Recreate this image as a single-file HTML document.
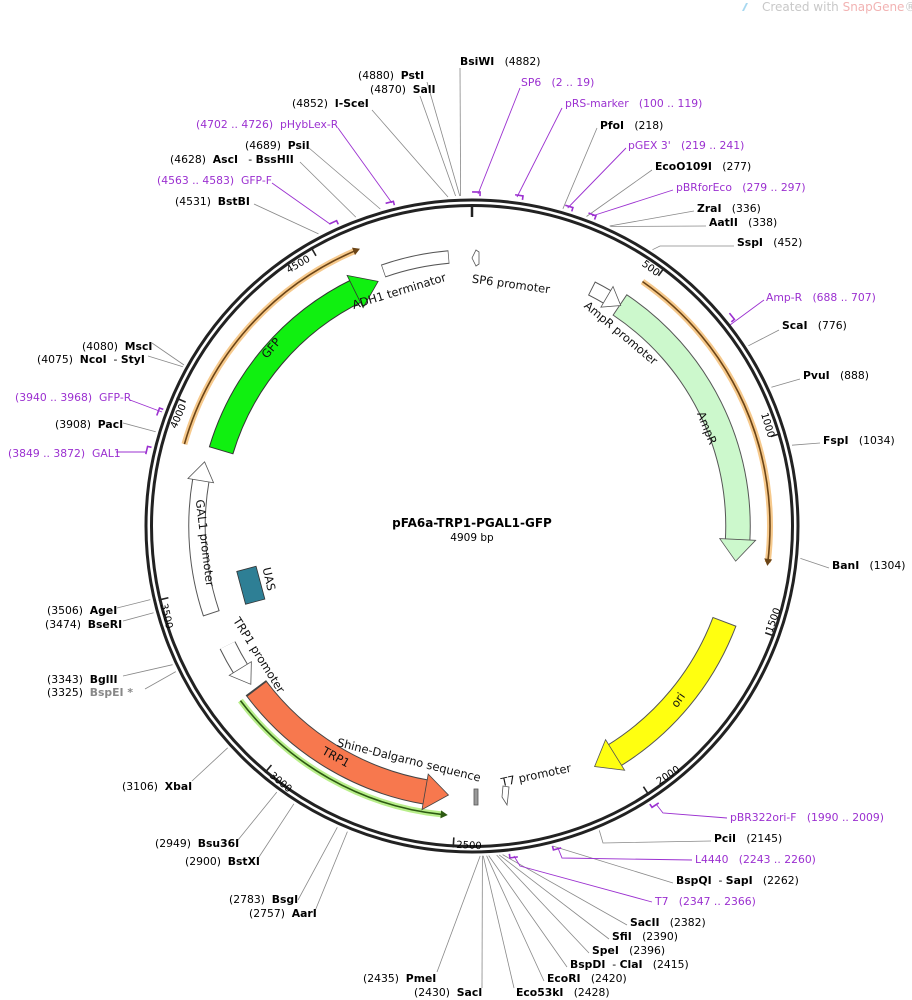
<!DOCTYPE html>
<html><head><meta charset="utf-8"><style>
html,body{margin:0;padding:0;background:#fff;}
svg{display:block;font-family:"DejaVu Sans","Liberation Sans",sans-serif;}
svg text{white-space:pre;}
.l{font-size:10.8px;fill:#000}
.p{font-size:10.8px;fill:#9b30d0}
.f{font-size:11.5px;fill:#111}
.g{stroke:#888;stroke-width:0.8;fill:none}
.pl{stroke:#9b30d0;stroke-width:0.9;fill:none}
.tk{font-size:10px;fill:#000}
</style></head><body>
<svg width="912" height="1000" viewBox="0 0 912 1000" xmlns="http://www.w3.org/2000/svg" xml:space="preserve">
<text x="762" y="11" font-size="12" fill="#c8c8c8">Created with <tspan fill="#f2b3b3">SnapGene</tspan>®</text>
<path d="M742 11 l4 -8 l2 0 l-4 8z" fill="#a8d8f0"/>

<g class="g">
<line x1="427" y1="82" x2="459.8" y2="196"/>
<line x1="420" y1="96" x2="455.6" y2="196"/>
<line x1="372" y1="110" x2="448" y2="197"/>
<line x1="460" y1="68" x2="460.6" y2="196"/>
<line x1="597" y1="128" x2="562.9" y2="208.8"/>
<line x1="652" y1="170" x2="586.5" y2="216.5"/>
<line x1="694" y1="211" x2="609.6" y2="226"/>
<line x1="706" y1="226" x2="610.4" y2="226.5"/>
<polyline points="734,246 660,246 652.5,249.7"/>
<line x1="779" y1="330" x2="748.4" y2="345.8"/>
<line x1="800" y1="379" x2="771.4" y2="387.2"/>
<line x1="820" y1="443" x2="792" y2="445.2"/>
<line x1="829" y1="568" x2="800.4" y2="558.4"/>
<polyline points="711,841 603,843 599.3,830.4"/>
<line x1="673" y1="883" x2="552.5" y2="846"/>
<line x1="627" y1="925" x2="502.6" y2="854.6"/>
<line x1="609" y1="939" x2="499.2" y2="854.9"/>
<line x1="589" y1="953" x2="496.7" y2="855.1"/>
<line x1="567" y1="967" x2="488.7" y2="855.6"/>
<line x1="544" y1="981" x2="486.6" y2="855.7"/>
<line x1="514" y1="988" x2="483.2" y2="855.8"/>
<line x1="482" y1="988" x2="482.4" y2="855.8"/>
<line x1="437" y1="972" x2="480.2" y2="855.9"/>
<line x1="298" y1="900" x2="337.3" y2="827.3"/>
<line x1="315" y1="911" x2="347.4" y2="831.6"/>
<line x1="238" y1="840" x2="276.8" y2="792.1"/>
<line x1="259" y1="857" x2="293.9" y2="803.8"/>
<line x1="192" y1="781" x2="227.7" y2="747.8"/>
<line x1="123" y1="676" x2="172.6" y2="664.7"/>
<line x1="145" y1="689" x2="175.8" y2="671.6"/>
<line x1="117" y1="608" x2="150.3" y2="599.6"/>
<line x1="123" y1="621" x2="153.6" y2="612.8"/>
<line x1="123" y1="423" x2="155.7" y2="431.8"/>
<line x1="152" y1="343" x2="184" y2="365"/>
<line x1="148" y1="356" x2="182.9" y2="366.8"/>
<line x1="254" y1="204" x2="318.5" y2="233.9"/>
<line x1="300" y1="162" x2="355.8" y2="217.1"/>
<line x1="309" y1="148" x2="380.3" y2="209"/>
</g>
<g class="pl">
<line x1="520" y1="88" x2="478" y2="194"/>
<line x1="562" y1="108" x2="517" y2="197"/>
<line x1="626" y1="148" x2="567.7" y2="208"/>
<line x1="673" y1="190" x2="592" y2="216"/>
<line x1="764" y1="300" x2="730" y2="325"/>
<polyline points="727,818 663,813 656,804"/>
<polyline points="692,860 562,858 558,848"/>
<polyline points="652,902 520,866 514,856"/>
<line x1="116" y1="452" x2="147" y2="452"/>
<line x1="130" y1="400" x2="162" y2="412"/>
<line x1="272" y1="183" x2="330" y2="224"/>
<line x1="338" y1="128" x2="392" y2="203"/>
</g>
<g stroke="#9b30d0" stroke-width="1.6" fill="none">
<path d="M468 192 h8 v4" transform="rotate(0.7 472 526)"/>
<path d="M468 192 h8 v4" transform="rotate(8.1 472 526)"/>
<path d="M468 192 h8 v4" transform="rotate(16.9 472 526)"/>
<path d="M468 192 h8 v4" transform="rotate(21.1 472 526)"/>
<path d="M468 192 h8 v4" transform="rotate(51.1 472 526)"/>
<path d="M468 192 h8 v4" transform="rotate(146.7 472 526)"/>
<path d="M468 192 h8 v4" transform="rotate(165.2 472 526)"/>
<path d="M468 192 h8 v4" transform="rotate(172.8 472 526)"/>
<path d="M468 192 h8 v4" transform="rotate(283.1 472 526)"/>
<path d="M468 192 h8 v4" transform="rotate(290 472 526)"/>
<path d="M468 192 h8 v4" transform="rotate(335.4 472 526)"/>
<path d="M468 192 h8 v4" transform="rotate(345.7 472 526)"/>
</g>

<circle cx="472" cy="526" r="326" fill="none" stroke="#222" stroke-width="3"/>
<circle cx="472" cy="526" r="320.5" fill="none" stroke="#222" stroke-width="3"/>
<line x1="472" y1="207" x2="472" y2="217" stroke="#222" stroke-width="2.5"/>

<g stroke="#222" stroke-width="1.6">
<line x1="472" y1="204" x2="472" y2="214" transform="rotate(36.67 472 526)"/>
<line x1="472" y1="204" x2="472" y2="214" transform="rotate(73.33 472 526)"/>
<line x1="472" y1="204" x2="472" y2="214" transform="rotate(110 472 526)"/>
<line x1="472" y1="204" x2="472" y2="214" transform="rotate(146.67 472 526)"/>
<line x1="472" y1="204" x2="472" y2="214" transform="rotate(183.34 472 526)"/>
<line x1="472" y1="204" x2="472" y2="214" transform="rotate(220 472 526)"/>
<line x1="472" y1="204" x2="472" y2="214" transform="rotate(256.7 472 526)"/>
<line x1="472" y1="204" x2="472" y2="214" transform="rotate(293.4 472 526)"/>
<line x1="472" y1="204" x2="472" y2="214" transform="rotate(330 472 526)"/>
</g>
<g class="tk" text-anchor="middle">
<text transform="translate(298,264) rotate(-30)" dy="3.5">4500</text>
<text transform="translate(651,268) rotate(36.7)" dy="3.5">500</text>
<text transform="translate(768,425) rotate(73.3)" dy="3.5">1000</text>
<text transform="translate(773,620) rotate(-70)" dy="3.5">1500</text>
<text transform="translate(668,775) rotate(-33.3)" dy="3.5">2000</text>
<text transform="translate(469,845) rotate(3)" dy="3.5">2500</text>
<text transform="translate(281,782) rotate(40)" dy="3.5">3000</text>
<text transform="translate(167,616) rotate(76.7)" dy="3.5">3500</text>
<text transform="translate(178,416) rotate(-67)" dy="3.5">4000</text>
</g>

<g fill="none">
<circle cx="472" cy="526" r="298" pathLength="360" stroke="#f6c98c" stroke-width="6" stroke-dasharray="62 298" transform="rotate(-55 472 526)"/>
<circle cx="472" cy="526" r="298" pathLength="360" stroke="#6b4416" stroke-width="1.6" stroke-dasharray="62 298" transform="rotate(-55 472 526)"/>
<circle cx="472" cy="526" r="299" pathLength="360" stroke="#f6c98c" stroke-width="6" stroke-dasharray="51 309" transform="rotate(196 472 526)"/>
<circle cx="472" cy="526" r="299" pathLength="360" stroke="#6b4416" stroke-width="1.6" stroke-dasharray="51 309" transform="rotate(196 472 526)"/>
<circle cx="472" cy="526" r="290" pathLength="360" stroke="#b8ee8a" stroke-width="6" stroke-dasharray="47 313" transform="rotate(96 472 526)"/>
<circle cx="472" cy="526" r="290" pathLength="360" stroke="#2d5a12" stroke-width="1.6" stroke-dasharray="47 313" transform="rotate(96 472 526)"/>
</g>
<polygon points="466,224 466,232 473,228" fill="#6b4416" transform="rotate(97.5 472 526)"/>
<polygon points="465,223 465,231 472,227" fill="#6b4416" transform="rotate(338 472 526)"/>
<polygon points="478,232 478,240 471,236" fill="#2d5a12" transform="rotate(185 472 526)"/>

<circle cx="472" cy="526" r="262" pathLength="360" fill="none" stroke="#333" stroke-width="25.5" stroke-dasharray="47.3 312.7" transform="rotate(196.8 472 526)"/>
<circle cx="472" cy="526" r="262" pathLength="360" fill="none" stroke="#10f010" stroke-width="23.5" stroke-dasharray="47.5 312.5" transform="rotate(197 472 526)"/>
<polygon points="445.2,247.3 448.6,283.1 472,264" fill="#10f010" stroke="#333" stroke-width="0.8" transform="rotate(339 472 526)"/>
<circle cx="472" cy="526" r="266" pathLength="360" fill="none" stroke="#555" stroke-width="25.5" stroke-dasharray="59.4 300.6" transform="rotate(-56.2 472 526)"/>
<circle cx="472" cy="526" r="266" pathLength="360" fill="none" stroke="#ccf8cc" stroke-width="23.5" stroke-dasharray="59.5 300.5" transform="rotate(-56 472 526)"/>
<polygon points="448.7,243 451.7,278.8 472,260" fill="#ccf8cc" stroke="#555" stroke-width="0.8" transform="rotate(97.6 472 526)"/>
<circle cx="472" cy="526" r="270" pathLength="360" fill="none" stroke="#555" stroke-width="25.5" stroke-dasharray="37.5 322.5" transform="rotate(20.8 472 526)"/>
<circle cx="472" cy="526" r="270" pathLength="360" fill="none" stroke="#ffff10" stroke-width="23.5" stroke-dasharray="37.5 322.5" transform="rotate(21 472 526)"/>
<polygon points="446.9,239.1 450,275 472,256" fill="#ffff10" stroke="#555" stroke-width="0.8" transform="rotate(153 472 526)"/>
<circle cx="472" cy="526" r="270" pathLength="360" fill="none" stroke="#444" stroke-width="25.5" stroke-dasharray="43.4 316.6" transform="rotate(99.8 472 526)"/>
<circle cx="472" cy="526" r="270" pathLength="360" fill="none" stroke="#f7784e" stroke-width="23.5" stroke-dasharray="43.2 316.8" transform="rotate(99.6 472 526)"/>
<polygon points="497.1,239.1 494,275 472,256" fill="#f7784e" stroke="#444" stroke-width="0.8" transform="rotate(185 472 526)"/>
<circle cx="472" cy="526" r="275" pathLength="360" fill="none" stroke="#555" stroke-width="17.5" stroke-dasharray="28 332" transform="rotate(161.5 472 526)"/>
<circle cx="472" cy="526" r="275" pathLength="360" fill="none" stroke="#fff" stroke-width="15.5" stroke-dasharray="28.2 331.8" transform="rotate(161.7 472 526)"/>
<polygon points="451.9,238.7 453.7,264.6 472,251" fill="#fff" stroke="#555" stroke-width="0.8" transform="rotate(283.5 472 526)"/>
<circle cx="472" cy="526" r="272" pathLength="360" fill="none" stroke="#555" stroke-width="17.5" stroke-dasharray="5.8 354.2" transform="rotate(148.2 472 526)"/>
<circle cx="472" cy="526" r="272" pathLength="360" fill="none" stroke="#fff" stroke-width="15.5" stroke-dasharray="6 354" transform="rotate(148 472 526)"/>
<polygon points="491.9,241.7 490.1,267.6 472,254" fill="#fff" stroke="#555" stroke-width="0.8" transform="rotate(234.4 472 526)"/>
<circle cx="472" cy="526" r="266" pathLength="360" fill="none" stroke="#555" stroke-width="15.5" stroke-dasharray="3.7 356.3" transform="rotate(-63.2 472 526)"/>
<circle cx="472" cy="526" r="266" pathLength="360" fill="none" stroke="#fff" stroke-width="13.5" stroke-dasharray="3.8 356.2" transform="rotate(-63 472 526)"/>
<polygon points="455,248.6 456.5,272.5 472,260" fill="#fff" stroke="#555" stroke-width="0.8" transform="rotate(34 472 526)"/>
<circle cx="472" cy="526" r="270" pathLength="360" fill="none" stroke="#555" stroke-width="13.5" stroke-dasharray="14.2 345.8" transform="rotate(250.9 472 526)"/>
<circle cx="472" cy="526" r="270" pathLength="360" fill="none" stroke="#fff" stroke-width="11.5" stroke-dasharray="13.9 346.1" transform="rotate(251.05 472 526)"/>
<polygon points="479,252 479,264 476,266 472,258 476,250" fill="#fff" stroke="#555" stroke-width="0.8"/>
<polygon points="503,786 509,787 508,797 507,805 502,797" fill="#fff" stroke="#555" stroke-width="0.8"/>
<rect x="474" y="789" width="4" height="16" fill="#999" stroke="#555" stroke-width="0.8"/>
<rect x="455" y="287" width="34" height="20" fill="#2e7f95" stroke="#333" stroke-width="0.8" transform="rotate(255 472 526)"/>

<g class="f" text-anchor="middle">
<text transform="translate(399,291) rotate(-17)" dy="4">ADH1 terminator</text>
<text transform="translate(511,284) rotate(8)" dy="4">SP6 promoter</text>
<text transform="translate(621,333) rotate(40)" dy="4">AmpR promoter</text>
<text transform="translate(707,428) rotate(68)" dy="4">AmpR</text>
<text transform="translate(678,700) rotate(-55)" dy="4">ori</text>
<text transform="translate(536,775) rotate(-12)" dy="4">T7 promoter</text>
<text transform="translate(409,760) rotate(14)" dy="4">Shine-Dalgarno sequence</text>
<text transform="translate(336,757) rotate(29)" dy="4">TRP1</text>
<text transform="translate(259,655) rotate(58)" dy="4">TRP1 promoter</text>
<text transform="translate(269,579) rotate(77)" dy="4">UAS</text>
<text transform="translate(205,543) rotate(83)" dy="4">GAL1 promoter</text>
<text transform="translate(271,348) rotate(-50)" dy="4">GFP</text>
</g>
<text x="472" y="527" text-anchor="middle" font-size="12" font-weight="bold">pFA6a-TRP1-PGAL1-GFP</text>
<text x="472" y="541" text-anchor="middle" font-size="10.5">4909 bp</text>

<g class="l">
<text x="358" y="79">(4880)  <tspan font-weight="bold">PstI</tspan></text>
<text x="370" y="93">(4870)  <tspan font-weight="bold">SalI</tspan></text>
<text x="292" y="107">(4852)  <tspan font-weight="bold">I-SceI</tspan></text>
<text x="460" y="65"><tspan font-weight="bold">BsiWI</tspan>   (4882)</text>
<text x="600" y="129"><tspan font-weight="bold">PfoI</tspan>   (218)</text>
<text x="655" y="170"><tspan font-weight="bold">EcoO109I</tspan>   (277)</text>
<text x="697" y="212"><tspan font-weight="bold">ZraI</tspan>   (336)</text>
<text x="709" y="226"><tspan font-weight="bold">AatII</tspan>   (338)</text>
<text x="737" y="246"><tspan font-weight="bold">SspI</tspan>   (452)</text>
<text x="782" y="329"><tspan font-weight="bold">ScaI</tspan>   (776)</text>
<text x="803" y="379"><tspan font-weight="bold">PvuI</tspan>   (888)</text>
<text x="823" y="444"><tspan font-weight="bold">FspI</tspan>   (1034)</text>
<text x="832" y="569"><tspan font-weight="bold">BanI</tspan>   (1304)</text>
<text x="714" y="842"><tspan font-weight="bold">PciI</tspan>   (2145)</text>
<text x="676" y="884"><tspan font-weight="bold">BspQI</tspan>  - <tspan font-weight="bold">SapI</tspan>   (2262)</text>
<text x="630" y="926"><tspan font-weight="bold">SacII</tspan>   (2382)</text>
<text x="612" y="940"><tspan font-weight="bold">SfiI</tspan>   (2390)</text>
<text x="592" y="954"><tspan font-weight="bold">SpeI</tspan>   (2396)</text>
<text x="570" y="968"><tspan font-weight="bold">BspDI</tspan>  - <tspan font-weight="bold">ClaI</tspan>   (2415)</text>
<text x="547" y="982"><tspan font-weight="bold">EcoRI</tspan>   (2420)</text>
<text x="516" y="996"><tspan font-weight="bold">Eco53kI</tspan>   (2428)</text>
<text x="414" y="996">(2430)  <tspan font-weight="bold">SacI</tspan></text>
<text x="363" y="982">(2435)  <tspan font-weight="bold">PmeI</tspan></text>
<text x="229" y="903">(2783)  <tspan font-weight="bold">BsgI</tspan></text>
<text x="249" y="917">(2757)  <tspan font-weight="bold">AarI</tspan></text>
<text x="155" y="847">(2949)  <tspan font-weight="bold">Bsu36I</tspan></text>
<text x="185" y="865">(2900)  <tspan font-weight="bold">BstXI</tspan></text>
<text x="122" y="790">(3106)  <tspan font-weight="bold">XbaI</tspan></text>
<text x="47" y="683">(3343)  <tspan font-weight="bold">BglII</tspan></text>
<text x="47" y="696">(3325)  <tspan font-weight="bold" fill="#888">BspEI *</tspan></text>
<text x="47" y="614">(3506)  <tspan font-weight="bold">AgeI</tspan></text>
<text x="45" y="628">(3474)  <tspan font-weight="bold">BseRI</tspan></text>
<text x="55" y="428">(3908)  <tspan font-weight="bold">PacI</tspan></text>
<text x="82" y="350">(4080)  <tspan font-weight="bold">MscI</tspan></text>
<text x="37" y="363">(4075)  <tspan font-weight="bold">NcoI</tspan>  - <tspan font-weight="bold">StyI</tspan></text>
<text x="175" y="205">(4531)  <tspan font-weight="bold">BstBI</tspan></text>
<text x="170" y="163">(4628)  <tspan font-weight="bold">AscI</tspan>   - <tspan font-weight="bold">BssHII</tspan></text>
<text x="245" y="149">(4689)  <tspan font-weight="bold">PsiI</tspan></text>
</g>
<g class="p">
<text x="521" y="86">SP6   (2 .. 19)</text>
<text x="565" y="107">pRS-marker   (100 .. 119)</text>
<text x="628" y="149">pGEX 3'   (219 .. 241)</text>
<text x="676" y="191">pBRforEco   (279 .. 297)</text>
<text x="766" y="301">Amp-R   (688 .. 707)</text>
<text x="730" y="821">pBR322ori-F   (1990 .. 2009)</text>
<text x="695" y="863">L4440   (2243 .. 2260)</text>
<text x="655" y="905">T7   (2347 .. 2366)</text>
<text x="8" y="457">(3849 .. 3872)  GAL1</text>
<text x="15" y="401">(3940 .. 3968)  GFP-R</text>
<text x="157" y="184">(4563 .. 4583)  GFP-F</text>
<text x="196" y="128">(4702 .. 4726)  pHybLex-R</text>
</g>
</svg>
</body></html>
